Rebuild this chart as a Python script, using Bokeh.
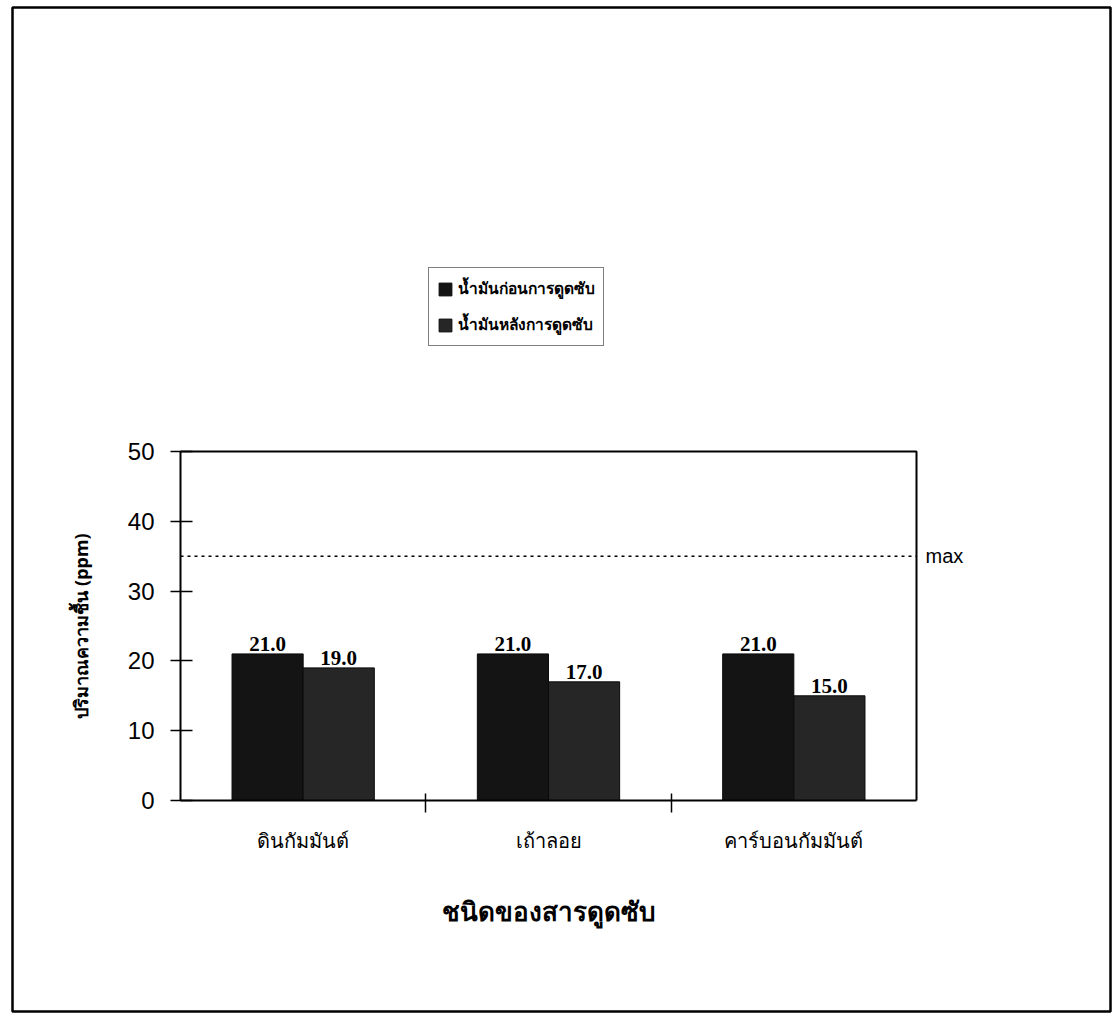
from bokeh.plotting import figure
from bokeh.models import (ColumnDataSource, FixedTicker, Range1d, Label,
                          LabelSet, Legend, LegendItem, LinearAxis)
from bokeh.embed import file_html
from bokeh.resources import INLINE

# Moisture content of oil before/after treatment with each adsorbent
categories = ["ดินกัมมันต์", "เถ้าลอย", "คาร์บอนกัมมันต์"]
before = [21.0, 21.0, 21.0]
after = [19.0, 17.0, 15.0]
series_names = ["น้ำมันก่อนการดูดซับ", "น้ำมันหลังการดูดซับ"]
max_limit = 35.0
y_ticks = [0, 10, 20, 30, 40, 50]

THAI = "Noto Sans"
SANS = "Liberation Sans"
SERIF = "Liberation Serif"

W, H = 1113, 1019
# page frame (outer box) and inner chart box, in canvas pixels
outer_l, outer_r, outer_t, outer_b = 12, 1110, 7, 1011
inner_l, inner_r, inner_t, inner_b = 180, 916, 451, 800

n_cat = len(categories)
y_max = y_ticks[-1]
sx = (inner_r - inner_l) / n_cat
sy = (inner_b - inner_t) / y_max
x_range = Range1d(-(inner_l - outer_l) / sx, n_cat + (outer_r - inner_r) / sx)
y_range = Range1d(-(outer_b - inner_b) / sy, y_max + (inner_t - outer_t) / sy)

bar_w = 0.29
centers = [i + 0.5 for i in range(n_cat)]

src_before = ColumnDataSource(dict(
    x=[c - bar_w / 2 for c in centers], y=before,
    label=[f"{v:.1f}" for v in before]))
src_after = ColumnDataSource(dict(
    x=[c + bar_w / 2 for c in centers], y=after,
    label=[f"{v:.1f}" for v in after]))

p = figure(width=W, height=H, output_backend="svg", toolbar_location=None,
           x_range=x_range, y_range=y_range, x_axis_type=None, y_axis_type=None,
           min_border_left=outer_l, min_border_right=W - outer_r,
           min_border_top=outer_t, min_border_bottom=H - outer_b)
p.background_fill_color = "white"
p.border_fill_color = "white"
p.outline_line_color = "black"
p.outline_line_width = 2.5
p.grid.visible = False

# top and right edges of the chart box
p.line(x=[0, n_cat, n_cat], y=[y_max, y_max, 0], line_color="black", line_width=2)

r1 = p.vbar(x="x", top="y", width=bar_w, source=src_before,
            fill_color="#141414", line_color="#0a0a0a", line_width=1)
r2 = p.vbar(x="x", top="y", width=bar_w, source=src_after,
            fill_color="#262626", line_color="#0a0a0a", line_width=1)

for src in (src_before, src_after):
    p.add_layout(LabelSet(x="x", y="y", text="label", source=src,
                          text_align="center", text_baseline="bottom",
                          y_offset=3, text_font=SERIF,
                          text_font_style="bold", text_font_size="21px",
                          text_color="black"))

# regulatory maximum
p.line(x=[0, n_cat], y=[max_limit, max_limit], line_color="black",
       line_width=1.5, line_dash="3 4")
p.add_layout(Label(x=n_cat, y=max_limit, text="max", x_offset=9,
                   text_baseline="middle", text_font=SANS,
                   text_font_size="20px", text_color="black"))

# y axis
ya = LinearAxis(fixed_location=0, bounds=(0, y_max),
                ticker=FixedTicker(ticks=y_ticks))
ya.major_tick_in = 12
ya.major_tick_out = 10
ya.minor_tick_line_color = None
ya.axis_line_width = 2
ya.major_tick_line_width = 1.5
ya.major_label_standoff = 16
ya.major_label_text_font = SANS
ya.major_label_text_font_size = "24px"
ya.major_label_text_color = "black"
ya.axis_label = "ปริมาณความชื้น (ppm)"
ya.axis_label_text_font = THAI
ya.axis_label_text_font_style = "bold"
ya.axis_label_text_font_size = "18px"
ya.axis_label_text_color = "black"
ya.axis_label_standoff = 32
p.add_layout(ya, "left")

# x axis: labels at category centres, ticks at group boundaries
xa = LinearAxis(fixed_location=0, bounds=(0, n_cat),
                ticker=FixedTicker(ticks=centers, minor_ticks=list(range(1, n_cat))))
xa.major_label_overrides = {c: name for c, name in zip(centers, categories)}
xa.major_tick_line_color = None
xa.major_tick_in = 0
xa.major_tick_out = 12
xa.minor_tick_in = 7
xa.minor_tick_out = 12
xa.minor_tick_line_width = 1.5
xa.axis_line_width = 2
xa.major_label_standoff = 14
xa.major_label_text_font = THAI
xa.major_label_text_font_size = "20px"
xa.major_label_text_color = "black"
xa.axis_label = "ชนิดของสารดูดซับ"
xa.axis_label_text_font = THAI
xa.axis_label_text_font_style = "bold"
xa.axis_label_text_font_size = "26px"
xa.axis_label_text_color = "black"
xa.axis_label_standoff = 36
p.add_layout(xa, "below")

legend = Legend(items=[LegendItem(label=series_names[0], renderers=[r1]),
                       LegendItem(label=series_names[1], renderers=[r2])],
                location=(428 - outer_l, outer_b - 346), orientation="vertical",
                border_line_color="black", border_line_width=1.5,
                background_fill_color="white", background_fill_alpha=1,
                label_text_font=THAI, label_text_font_style="bold",
                label_text_font_size="15.5px", label_text_color="black",
                glyph_width=16, glyph_height=16, spacing=11,
                padding=8, margin=0, label_standoff=5)
p.add_layout(legend, "center")

open("out.html", "w").write(file_html(p, INLINE))
